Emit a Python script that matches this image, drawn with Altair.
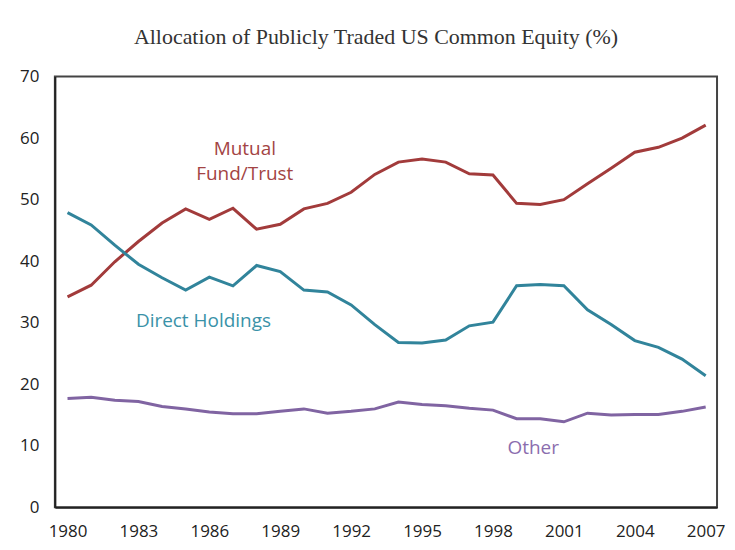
import altair as alt
import pandas as pd

years = list(range(1980, 2008))
mutual = [34.2, 36.1, 39.9, 43.2, 46.2, 48.5, 46.8, 48.6, 45.2, 46.0,
          48.5, 49.4, 51.2, 54.1, 56.1, 56.6, 56.1, 54.2, 54.0, 49.4,
          49.2, 50.0, 52.6, 55.1, 57.7, 58.5, 60.0, 62.1]
direct = [47.9, 45.9, 42.6, 39.5, 37.3, 35.3, 37.4, 36.0, 39.3, 38.3,
          35.3, 35.0, 32.9, 29.7, 26.8, 26.7, 27.2, 29.5, 30.1, 36.0,
          36.2, 36.0, 32.1, 29.7, 27.1, 26.0, 24.1, 21.4]
other = [17.7, 17.9, 17.4, 17.2, 16.4, 16.0, 15.5, 15.2, 15.2, 15.6,
         16.0, 15.3, 15.6, 16.0, 17.1, 16.7, 16.5, 16.1, 15.8, 14.4,
         14.4, 13.9, 15.3, 15.0, 15.1, 15.1, 15.6, 16.3]

series_names = ["Mutual Fund/Trust", "Direct Holdings", "Other"]
series_colors = ["#A23B3B", "#31849B", "#8064A2"]
label_colors = ["#A34444", "#3A92A8", "#8B6DAE"]

tick_years = [1980, 1983, 1986, 1989, 1992, 1995, 1998, 2001, 2004, 2007]
y_ticks = [0, 10, 20, 30, 40, 50, 60, 70]

# series label annotations (data coordinates; first line position)
label_texts = [["Mutual", "Fund/Trust"], ["Direct Holdings"], ["Other"]]
label_x = [1987.5, 1985.75, 1999.7]
label_y = [58.3, 30.3, 9.7]

rows = []
for name, vals in zip(series_names, [mutual, direct, other]):
    for yr, v in zip(years, vals):
        rows.append({"year": yr, "value": v, "series": name})
df = pd.DataFrame(rows)

lab_df = pd.DataFrame({"series": series_names, "text": label_texts,
                       "x": label_x, "y": label_y})

xscale = alt.Scale(domain=[1979.465, 2007.48], nice=False, zero=False)
yscale = alt.Scale(domain=[0, 70], nice=False)
cscale = alt.Scale(domain=series_names, range=series_colors)
tscale = alt.Scale(domain=series_names, range=label_colors)

lines = alt.Chart(df).mark_line(strokeWidth=3).encode(
    x=alt.X("year:Q", scale=xscale,
            axis=alt.Axis(values=tick_years, format="d", title=None,
                          ticks=False, grid=False, labelPadding=16,
                          labelFontSize=17, labelFont="Open Sans",
                          labelColor="#222", domainColor="#222",
                          domainWidth=2)),
    y=alt.Y("value:Q", scale=yscale,
            axis=alt.Axis(values=y_ticks, title=None, ticks=False,
                          grid=False, labelPadding=16, labelFontSize=17,
                          labelFont="Open Sans", labelColor="#222",
                          domainColor="#222", domainWidth=2)),
    color=alt.Color("series:N", scale=cscale, legend=None),
    detail="series:N",
)

labels = alt.Chart(lab_df).mark_text(
    font="Open Sans", fontSize=19, lineHeight=26, align="center",
    baseline="middle"
).encode(
    x=alt.X("x:Q", scale=xscale),
    y=alt.Y("y:Q", scale=yscale),
    text="text",
    color=alt.Color("series:N", scale=tscale, legend=None),
)

chart = alt.layer(lines, labels).resolve_scale(color="independent").properties(
    width=664,
    height=432,
    background="white",
    autosize=alt.AutoSizeParams(type="none"),
    padding={"left": 47, "top": 68, "right": 10, "bottom": 40},
    title=alt.TitleParams(
        "Allocation of Publicly Traded US Common Equity (%)",
        font="Liberation Serif", fontSize=22, fontWeight="normal",
        color="#333", anchor="middle", baseline="bottom", offset=27,
        dx=-10, dy=30,
    ),
).configure_view(stroke="#444", strokeWidth=2)

chart.save("out.html", embed_options={"renderer": "svg", "actions": False})
